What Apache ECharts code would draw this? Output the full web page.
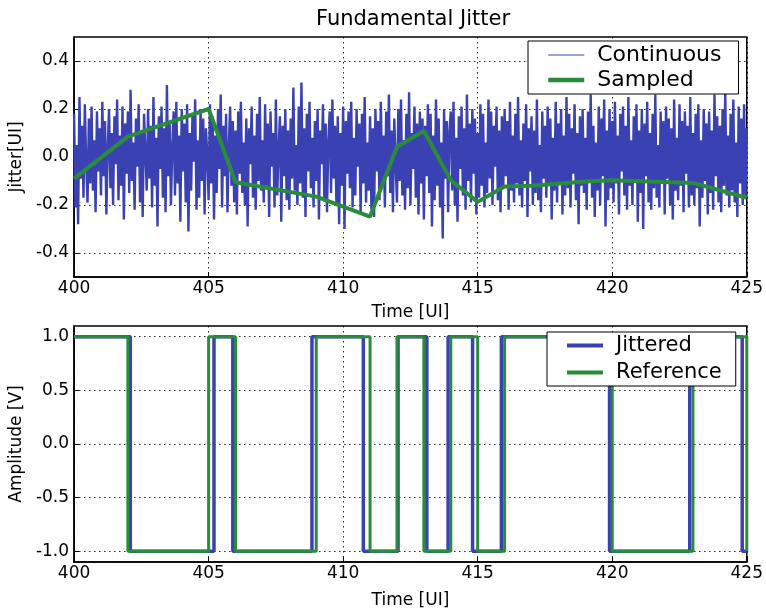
<!DOCTYPE html>
<html>
<head>
<meta charset="utf-8">
<script src="https://cdn.jsdelivr.net/npm/echarts@6/dist/echarts.min.js"></script>
<style>
  html, body { margin: 0; padding: 0; background: #fff; }
  #chart { width: 766px; height: 610px; }
</style>
</head>
<body>
<div id="chart"></div>
<script>
// time axis
const tStart = 400;
const tEnd = 425;
const tStep = 0.05; // continuous jitter sample spacing [UI]
const jitterTicks = [-0.4, -0.2, 0.0, 0.2, 0.4];
const ampTicks = [-1.0, -0.5, 0.0, 0.5, 1.0];

// continuous jitter (one row per UI)
const continuousJitter = [
  .18,-.21,.05,-.28,.25,-.09,.13,-.17,.22,-.02,-.19,.16,-.11,.21,-.14,.07,-.23,.19,-.06,.12,
  -.16,.23,-.08,.15,-.24,.04,.2,-.13,.1,-.2,.17,-.03,.24,-.18,.09,-.12,.21,-.26,.14,-.07,
  .19,-.15,.28,-.1,.06,-.22,.16,-.04,.22,-.19,.11,-.25,.18,.02,-.14,.2,-.09,.13,-.21,.25,
  -.12,.08,-.29,.17,-.05,.21,-.17,.12,-.23,.3,-.08,.15,-.2,.04,.19,-.16,.23,-.11,.09,-.27,
  .2,-.06,.14,-.19,.22,-.31,.1,-.14,.18,-.02,.24,-.22,.07,-.17,.2,-.1,.16,-.24,.12,.01,
  -.18,.22,-.11,.17,-.26,.09,-.15,.2,-.05,.26,-.21,.13,-.08,.18,-.23,.04,.21,-.12,.15,-.19,
  .11,-.24,.19,-.07,.23,-.15,.06,-.2,.16,-.29,.12,-.03,.21,-.17,.09,-.22,.18,-.1,.25,-.14,
  .07,-.19,.22,-.12,.14,-.25,.19,-.04,.1,-.21,.24,-.16,.03,.17,-.27,.13,-.08,.2,-.18,.11,
  -.22,.16,-.09,.29,-.14,.05,-.2,.21,-.11,.31,-.17,.12,-.25,.18,-.06,.23,-.13,.08,-.21,.15,
  -.1,.2,-.26,.11,-.03,.22,-.18,.14,-.23,.07,.19,-.15,.24,-.09,.13,-.2,.17,-.28,.1,-.12,
  .21,-.3,.15,-.07,.19,-.13,.23,-.21,.08,-.16,.2,-.04,.14,-.24,.18,-.11,.25,-.19,.06,-.14,
  .17,-.22,.12,-.25,.2,-.06,.15,-.18,.23,-.12,.09,-.21,.19,-.08,.26,-.15,.11,-.23,.16,-.03,
  -.19,.2,-.1,.24,-.16,.07,-.22,.18,-.13,.27,-.2,.1,-.05,.21,-.17,.14,-.24,.19,-.11,.16,
  -.26,.13,-.08,.22,-.15,.18,-.29,.09,-.18,.24,-.12,.16,-.21,.06,-.34,.2,-.09,.15,-.23,.11,
  .19,-.14,.23,-.2,.08,-.27,.17,-.05,.21,-.16,.12,-.22,.26,-.1,.14,-.19,.2,-.07,.16,-.24,
  .1,-.17,.22,-.12,.18,-.21,.06,-.15,.24,-.09,.19,-.2,.13,-.04,.21,-.18,.11,-.23,.17,-.13,
  .2,-.08,.15,-.22,.23,-.14,.09,-.19,.18,-.11,.25,-.16,.07,-.21,.14,-.1,.22,-.25,.12,-.06,
  .17,-.2,.11,-.15,.24,-.18,.05,-.23,.19,-.09,.13,-.17,.21,-.12,.16,-.26,.08,-.14,.23,-.19,
  .14,-.11,.2,-.24,.09,-.16,.25,-.13,.18,-.21,.12,-.07,.22,-.18,.1,-.28,.17,-.12,.2,-.15,
  .08,-.22,.19,-.1,.26,-.17,.13,-.25,.06,-.14,.21,-.2,.16,-.08,.24,-.29,.11,-.18,.2,-.13,
  .15,-.19,.23,-.11,.09,-.24,.18,-.06,.21,-.16,.13,-.22,.25,-.12,.07,-.2,.17,-.1,.22,-.27,
  .11,-.15,.2,-.3,.14,-.08,.23,-.19,.1,-.22,.18,-.13,.26,-.17,.05,-.21,.19,-.11,.15,-.24,
  .21,-.09,.16,-.2,.12,-.26,.24,-.14,.08,-.18,.22,-.12,.15,-.23,.19,-.07,.13,-.21,.25,-.16,
  .1,-.2,.18,-.13,.22,-.29,.07,-.17,.2,-.1,.14,-.24,.19,-.15,.11,-.22,.26,-.08,.17,-.19,
  .13,-.23,.2,-.12,.27,-.16,.09,-.21,.18,-.14,.24,-.19,.06,-.25,.21,-.11,.16,-.2,.22,-.17,
  .12
];

// sampled jitter at the data edges
const sampledTimes = [400, 402, 405, 406, 409, 411, 412, 413, 414, 415, 416, 417, 419, 420, 423, 425];
const sampledJitter = [-0.09, 0.085, 0.2, -0.105, -0.165, -0.248, 0.043, 0.108, -0.097, -0.187, -0.123, -0.12, -0.102, -0.097, -0.108, -0.17];

// square waves: level at t=400 and the edge times
const startLevel = 1;
const refEdges = [402, 405, 406, 409, 411, 412, 413, 414, 415, 416, 420, 423, 425];
const jitEdges = [402.09, 405.2, 405.9, 408.84, 410.75, 412.04, 413.11, 413.9, 414.81, 415.88, 419.9, 422.88, 424.83];

const BLUE = '#3a41b2';
const GREEN = '#2a8c3b';
const FONT = 'DejaVu Sans';

function stepData(edges) {
  let lvl = startLevel;
  const out = [[tStart, lvl]];
  edges.forEach(t => {
    lvl = -lvl;
    out.push([t, lvl]);
  });
  if (edges[edges.length - 1] < tEnd) out.push([tEnd, lvl]);
  return out;
}

const contData = continuousJitter.map((v, i) => [tStart + i * tStep, v]);
const sampData = sampledTimes.map((t, i) => [t, sampledJitter[i]]);

const gridLine = { show: true, lineStyle: { color: '#000', width: 1, type: [1.5, 3.5], opacity: 0.85 } };

function xAxis(idx, gap) {
  return {
    gridIndex: idx, type: 'value', min: tStart, max: tEnd, interval: 5,
    name: 'Time [UI]', nameLocation: 'middle', nameGap: gap,
    nameTextStyle: { fontFamily: FONT, fontSize: 17, color: '#000' },
    axisLine: { show: true, onZero: false, lineStyle: { color: '#000', width: 1.5 } },
    axisTick: { show: true, inside: true, length: 5, lineStyle: { color: '#000' } },
    axisLabel: { fontFamily: FONT, fontSize: 17, color: '#000', margin: 3 },
    splitLine: gridLine
  };
}
function yAxis(idx, min, max, ticks, name) {
  return {
    gridIndex: idx, type: 'value', min: min, max: max,
    name: name, nameLocation: 'middle', nameGap: 48, nameRotate: 90,
    nameTextStyle: { fontFamily: FONT, fontSize: 17, color: '#000' },
    axisLine: { show: true, onZero: false, lineStyle: { color: '#000', width: 1.5 } },
    axisTick: { show: true, inside: true, length: 5, customValues: ticks, lineStyle: { color: '#000' } },
    axisLabel: { fontFamily: FONT, fontSize: 17, color: '#000', margin: 5, customValues: ticks,
      formatter: v => v.toFixed(1) },
    splitLine: gridLine
  };
}

const legendBase = {
  orient: 'vertical', backgroundColor: '#fff', borderColor: '#000', borderWidth: 1,
  borderRadius: 0, itemWidth: 36, itemHeight: 14,
  itemStyle: { opacity: 0 }
};

const chart = echarts.init(document.getElementById('chart'));
chart.setOption({
  animation: false,
  backgroundColor: '#fff',
  title: {
    text: 'Fundamental Jitter', left: 408, top: 4, textAlign: 'center',
    textStyle: { fontFamily: FONT, fontSize: 21, fontWeight: 'normal', color: '#000' }
  },
  legend: [
    Object.assign({}, legendBase, {
      left: 528, top: 41, padding: [3, 17, 3, 18], itemGap: 3,
      textStyle: { fontFamily: FONT, fontSize: 22, color: '#000', padding: [0, 0, 0, 8] },
      data: [
        { name: 'Continuous', lineStyle: { width: 1.2 } },
        { name: 'Sampled', lineStyle: { width: 4.5 } }
      ]
    }),
    Object.assign({}, legendBase, {
      left: 547, top: 332, padding: [3, 14, 3, 18], itemGap: 6,
      textStyle: { fontFamily: FONT, fontSize: 21, color: '#000', padding: [0, 0, 0, 8] },
      data: [
        { name: 'Jittered', lineStyle: { width: 4 } },
        { name: 'Reference', lineStyle: { width: 4 } }
      ]
    })
  ],
  grid: [
    { left: 66, top: 37, width: 684, height: 240, show: true, borderColor: '#000', borderWidth: 1.5 },
    { left: 66, top: 326, width: 684, height: 242, show: true, borderColor: '#000', borderWidth: 1.5 }
  ],
  xAxis: [xAxis(0, 27), xAxis(1, 30)],
  yAxis: [
    yAxis(0, -0.5, 0.5, jitterTicks, 'Jitter[UI]'),
    yAxis(1, -1.1, 1.1, ampTicks, 'Amplitude [V]')
  ],
  series: [
    { name: 'Continuous', type: 'line', xAxisIndex: 0, yAxisIndex: 0, data: contData,
      symbol: 'none', color: BLUE, lineStyle: { width: 2.4, color: BLUE } },
    { name: 'Sampled', type: 'line', xAxisIndex: 0, yAxisIndex: 0, data: sampData,
      symbol: 'none', color: GREEN, lineStyle: { width: 4, color: GREEN } },
    { name: 'Jittered', type: 'line', xAxisIndex: 1, yAxisIndex: 1, data: stepData(jitEdges), step: 'end',
      symbol: 'none', color: BLUE, lineStyle: { width: 3.5, color: BLUE } },
    { name: 'Reference', type: 'line', xAxisIndex: 1, yAxisIndex: 1, data: stepData(refEdges), step: 'end',
      symbol: 'none', color: GREEN, lineStyle: { width: 3, color: GREEN } }
  ]
});
</script>
</body>
</html>
